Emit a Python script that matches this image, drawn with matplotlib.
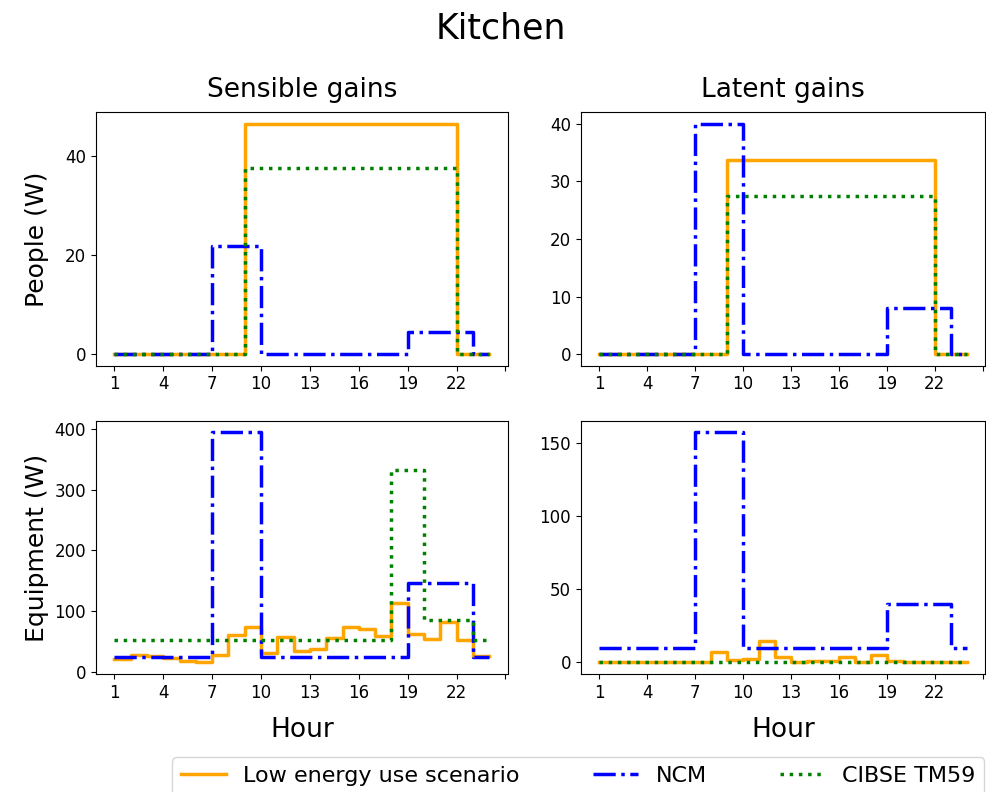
import matplotlib
matplotlib.use("Agg")
import matplotlib.pyplot as plt
import numpy as np

# hours of the day, values plotted as post steps
hours = np.arange(1, 25)

# people - sensible gains (W)
low_people_sens = [0, 0, 0, 0, 0, 0, 0, 0, 46.4, 46.4, 46.4, 46.4, 46.4, 46.4, 46.4, 46.4,
                   46.4, 46.4, 46.4, 46.4, 46.4, 0, 0, 0]
ncm_people_sens = [0, 0, 0, 0, 0, 0, 21.7, 21.7, 21.7, 0, 0, 0, 0, 0, 0, 0,
                   0, 0, 4.5, 4.5, 4.5, 4.5, 0, 0]
tm59_people_sens = [0, 0, 0, 0, 0, 0, 0, 0, 37.6, 37.6, 37.6, 37.6, 37.6, 37.6, 37.6, 37.6,
                    37.6, 37.6, 37.6, 37.6, 37.6, 0, 0, 0]

# people - latent gains (W)
low_people_lat = [0, 0, 0, 0, 0, 0, 0, 0, 33.8, 33.8, 33.8, 33.8, 33.8, 33.8, 33.8, 33.8,
                  33.8, 33.8, 33.8, 33.8, 33.8, 0, 0, 0]
ncm_people_lat = [0, 0, 0, 0, 0, 0, 40, 40, 40, 0, 0, 0, 0, 0, 0, 0,
                  0, 0, 8, 8, 8, 8, 0, 0]
tm59_people_lat = [0, 0, 0, 0, 0, 0, 0, 0, 27.5, 27.5, 27.5, 27.5, 27.5, 27.5, 27.5, 27.5,
                   27.5, 27.5, 27.5, 27.5, 27.5, 0, 0, 0]

# equipment - sensible gains (W)
low_equip_sens = [20, 28, 26, 23, 18, 15, 28, 60, 74, 30, 57, 34, 38, 55, 73, 71,
                  58, 114, 62, 53, 82, 52, 26, 26]
ncm_equip_sens = [24, 24, 24, 24, 24, 24, 395, 395, 395, 24, 24, 24, 24, 24, 24, 24,
                  24, 24, 146, 146, 146, 146, 24, 24]
tm59_equip_sens = [52, 52, 52, 52, 52, 52, 52, 52, 52, 52, 52, 52, 52, 52, 52, 52,
                   52, 333, 333, 84.5, 84.5, 84.5, 52, 52]

# equipment - latent gains (W)
low_equip_lat = [0, 0, 0, 0, 0, 0, 0, 7.5, 1.4, 2.3, 15, 3.6, 0, 1, 1, 4,
                 0, 5, 1, 0, 0, 0, 0, 0]
ncm_equip_lat = [10, 10, 10, 10, 10, 10, 157.5, 157.5, 157.5, 10, 10, 10, 10, 10, 10, 10,
                 10, 10, 40, 40, 40, 40, 10, 10]
tm59_equip_lat = [0, 0, 0, 0, 0, 0, 0, 0, 0, 0, 0, 0, 0, 0, 0, 0,
                  0, 0, 0, 0, 0, 0, 0, 0]

labels = ["Low energy use scenario", "NCM", "CIBSE TM59"]
xticks = [1, 4, 7, 10, 13, 16, 19, 22, 25]
xticklabels = ["1", "4", "7", "10", "13", "16", "19", "22", ""]
yticks = [[0, 20, 40], [0, 10, 20, 30, 40], [0, 100, 200, 300, 400], [0, 50, 100, 150]]

fig, axs = plt.subplots(2, 2, figsize=(9.87, 7.92), dpi=100,
                        gridspec_kw={'width_ratios': [412, 404]})
fig.subplots_adjust(left=0.097, right=0.998, top=0.858, bottom=0.149,
                    wspace=0.179, hspace=0.219)

panels = [
    (axs[0, 0], low_people_sens, ncm_people_sens, tm59_people_sens),
    (axs[0, 1], low_people_lat, ncm_people_lat, tm59_people_lat),
    (axs[1, 0], low_equip_sens, ncm_equip_sens, tm59_equip_sens),
    (axs[1, 1], low_equip_lat, ncm_equip_lat, tm59_equip_lat),
]

lines = []
for (ax, low, ncm, tm59), yt in zip(panels, yticks):
    l1, = ax.step(hours, low, where='post', color='orange', lw=2.5)
    l2, = ax.step(hours, ncm, where='post', color='blue', lw=2.5, ls='-.')
    l3, = ax.step(hours, tm59, where='post', color='green', lw=2.5, ls=':')
    ax.set_xticks(xticks)
    ax.set_xticklabels(xticklabels)
    ax.set_yticks(yt)
    ax.tick_params(labelsize=12)
    lines = [l1, l2, l3]

axs[0, 0].set_title("Sensible gains", fontsize=19, pad=11)
axs[0, 1].set_title("Latent gains", fontsize=19, pad=11)
axs[0, 0].set_ylabel("People (W)", fontsize=18)
axs[1, 0].set_ylabel("Equipment (W)", fontsize=18)
axs[1, 0].set_xlabel("Hour", fontsize=19, labelpad=11)
axs[1, 1].set_xlabel("Hour", fontsize=19, labelpad=11)
fig.align_ylabels(axs[:, 0])

fig.suptitle("Kitchen", fontsize=25, x=0.507, y=0.985)
fig.legend(lines, labels, loc='upper center', bbox_to_anchor=(0.586, 0.058),
           ncol=3, fontsize=16, columnspacing=3.3)

fig.savefig("out.png")
